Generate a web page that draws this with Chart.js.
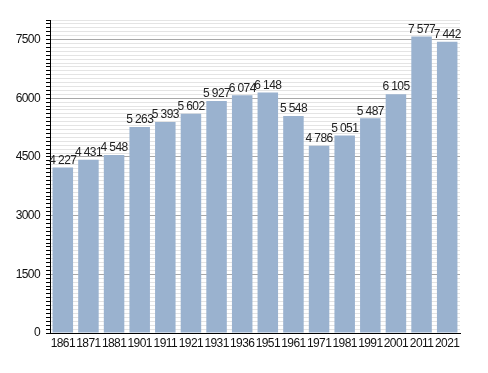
<!DOCTYPE html>
<html>
<head>
<meta charset="utf-8">
<script src="https://cdn.jsdelivr.net/npm/chart.js@4"></script>
<style>
  html, body { margin: 0; padding: 0; background: #fff; }
  #wrap { width: 488px; height: 373px; }
</style>
</head>
<body>
<div id="wrap"><canvas id="popChart"></canvas></div>
<script>
// census years and population
const years = ['1861', '1871', '1881', '1901', '1911', '1921', '1931', '1936',
    '1951', '1961', '1971', '1981', '1991', '2001', '2011', '2021'];
const population = [4227, 4431, 4548, 5263, 5393, 5602, 5927, 6074,
    6148, 5548, 4786, 5051, 5487, 6105, 7577, 7442];
const yTicks = [0, 1500, 3000, 4500, 6000, 7500];

// thousands with a space, like "4 227"
function fmt(n) {
    return String(n).replace(/\B(?=(\d{3})+(?!\d))/g, ' ');
}

// tighter letters, the original font is rather narrow
const tightText = {
    id: 'tightText',
    beforeDraw(chart) {
        chart.ctx.letterSpacing = '-0.6px';
    }
};

// draws the value above each bar
const valueLabels = {
    id: 'valueLabels',
    afterDatasetsDraw(chart) {
        const ctx = chart.ctx;
        const meta = chart.getDatasetMeta(0);
        ctx.save();
        ctx.font = '12px "Liberation Sans", Arial, sans-serif';
        ctx.letterSpacing = '-0.6px';
        ctx.fillStyle = '#222';
        ctx.textAlign = 'center';
        ctx.textBaseline = 'bottom';
        meta.data.forEach((bar, i) => {
            ctx.fillText(fmt(population[i]), bar.x, bar.y - 1);
        });
        ctx.restore();
    }
};

const ctx = document.getElementById('popChart').getContext('2d');

new Chart(ctx, {
    type: 'bar',
    data: {
        labels: years,
        datasets: [{
            data: population,
            backgroundColor: '#9ab2cf',
            borderWidth: 0,
            barPercentage: 0.8,
            categoryPercentage: 1.0
        }]
    },
    options: {
        responsive: true,
        maintainAspectRatio: false,
        animation: false,
        layout: {
            padding: { top: 20, right: 28, left: 0, bottom: 0 }
        },
        plugins: {
            legend: { display: false },
            tooltip: { enabled: false }
        },
        scales: {
            x: {
                grid: { display: false, drawTicks: false, tickLength: 0 },
                border: { color: '#000', width: 1 },
                ticks: {
                    color: '#111',
                    font: { size: 12, family: '"Liberation Sans", Arial, sans-serif' },
                    maxRotation: 0,
                    autoSkip: false,
                    padding: 3
                },
                afterFit(scale) { scale.height = 40; }
            },
            y: {
                min: 0,
                max: 8000,
                border: { color: '#000', width: 1 },
                grid: {
                    color: c => (yTicks.includes(c.tick.value) ? '#a8a8a8' : '#e4e4e4'),
                    tickColor: '#000',
                    tickLength: 4
                },
                ticks: {
                    stepSize: 100,
                    autoSkip: false,
                    color: '#111',
                    padding: 6,
                    font: { size: 12, family: '"Liberation Sans", Arial, sans-serif' },
                    callback: v => (yTicks.includes(v) ? String(v) : '')
                },
                afterFit(scale) { scale.width = 50; }
            }
        }
    },
    plugins: [tightText, valueLabels]
});
</script>
</body>
</html>
